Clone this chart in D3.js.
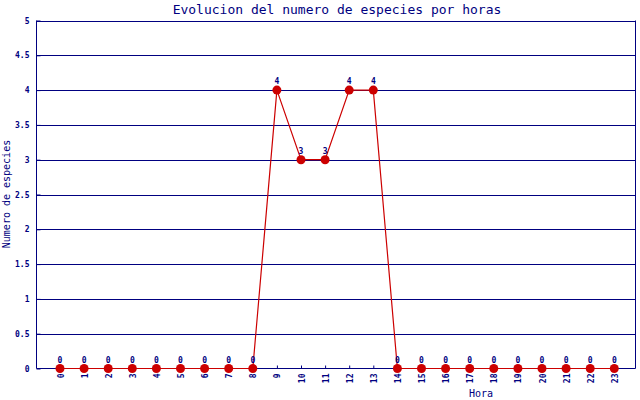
<!DOCTYPE html>
<html><head><meta charset="utf-8">
<script src="https://cdn.jsdelivr.net/npm/d3@7"></script>
<style>body{margin:0;background:#fff}svg{display:block}</style>
</head><body>
<svg id="c" width="640" height="400"></svg>
<script>
const hours = ["0","1","2","3","4","5","6","7","8","9","10","11","12","13","14","15","16","17","18","19","20","21","22","23"];
const values = [0,0,0,0,0,0,0,0,0,4,3,3,4,4,0,0,0,0,0,0,0,0,0,0];
const yTicks = [0,0.5,1,1.5,2,2.5,3,3.5,4,4.5,5];
const title = "Evolucion del numero de especies por horas";
const xTitle = "Hora";
const yTitle = "Numero de especies";

const navy = "#000080", red = "#cc0000";
const svg = d3.select("#c");
const L = 36.5, R = 635.5, T = 20.5, B = 368.5;
const x = d3.scaleLinear().domain([0, 23]).range([60, 614.3]);
const y = d3.scaleLinear().domain([0, 5]).range([B, T]);

svg.append("text").attr("x", 337).attr("y", 14).attr("text-anchor", "middle")
  .attr("font-family", "DejaVu Sans Mono").attr("font-size", 13).attr("fill", navy).text(title);

// gridlines
svg.append("g").selectAll("line").data(yTicks.filter(d => d > 0)).join("line")
  .attr("x1", L).attr("x2", R).attr("y1", d => Math.round(y(d)) + 0.5).attr("y2", d => Math.round(y(d)) + 0.5)
  .attr("stroke", navy).attr("stroke-width", 1);
// right border
svg.append("line").attr("x1", R).attr("x2", R).attr("y1", T).attr("y2", B).attr("stroke", navy);

// y axis
const yAxis = d3.axisLeft(y).tickValues(yTicks).tickSize(-4).tickPadding(7)
  .tickFormat(d => d3.format("")(d));
const gy = svg.append("g").attr("transform", `translate(${L},0)`).call(yAxis);
gy.select(".domain").attr("stroke", navy).attr("d", `M0,${T}V${B}`);
gy.selectAll(".tick line").attr("stroke", navy);
gy.selectAll(".tick text").attr("fill", navy).attr("font-family", "DejaVu Sans Mono")
  .attr("font-size", 8).attr("font-weight", "bold");

// x axis
const xAxis = d3.axisBottom(x).tickValues(d3.range(24)).tickSize(-3).tickPadding(0)
  .tickFormat(i => hours[i]);
const gx = svg.append("g").attr("transform", `translate(0,${B})`).call(xAxis);
gx.select(".domain").attr("stroke", navy).attr("d", `M${L},0H${R}`);
gx.selectAll(".tick line").attr("stroke", navy);
gx.selectAll(".tick text").attr("fill", navy).attr("font-family", "DejaVu Sans Mono")
  .attr("font-size", 8).attr("font-weight", "bold")
  .attr("transform", "translate(3,5) rotate(-90)").attr("text-anchor", "end").attr("dy", "0").attr("y", 0);

// line
svg.append("path").datum(values)
  .attr("d", d3.line().x((d, i) => x(i)).y(d => y(d)))
  .attr("fill", "none").attr("stroke", red).attr("stroke-width", 1.2);
svg.append("g").selectAll("circle").data(values).join("circle")
  .attr("cx", (d, i) => x(i)).attr("cy", d => y(d)).attr("r", 4.5).attr("fill", red);
svg.append("g").selectAll("text").data(values).join("text")
  .attr("x", (d, i) => x(i)).attr("y", d => y(d) - 6).attr("text-anchor", "middle")
  .attr("font-family", "DejaVu Sans Mono").attr("font-size", 8).attr("font-weight", "bold")
  .attr("fill", navy).text(d => d);

// axis titles
svg.append("text").attr("x", 481).attr("y", 397).attr("text-anchor", "middle")
  .attr("font-family", "DejaVu Sans Mono").attr("font-size", 10).attr("fill", navy).text(xTitle);
svg.append("text").attr("transform", "translate(10,194) rotate(-90)").attr("text-anchor", "middle")
  .attr("font-family", "DejaVu Sans Mono").attr("font-size", 10).attr("fill", navy).text(yTitle);
</script>
</body></html>
